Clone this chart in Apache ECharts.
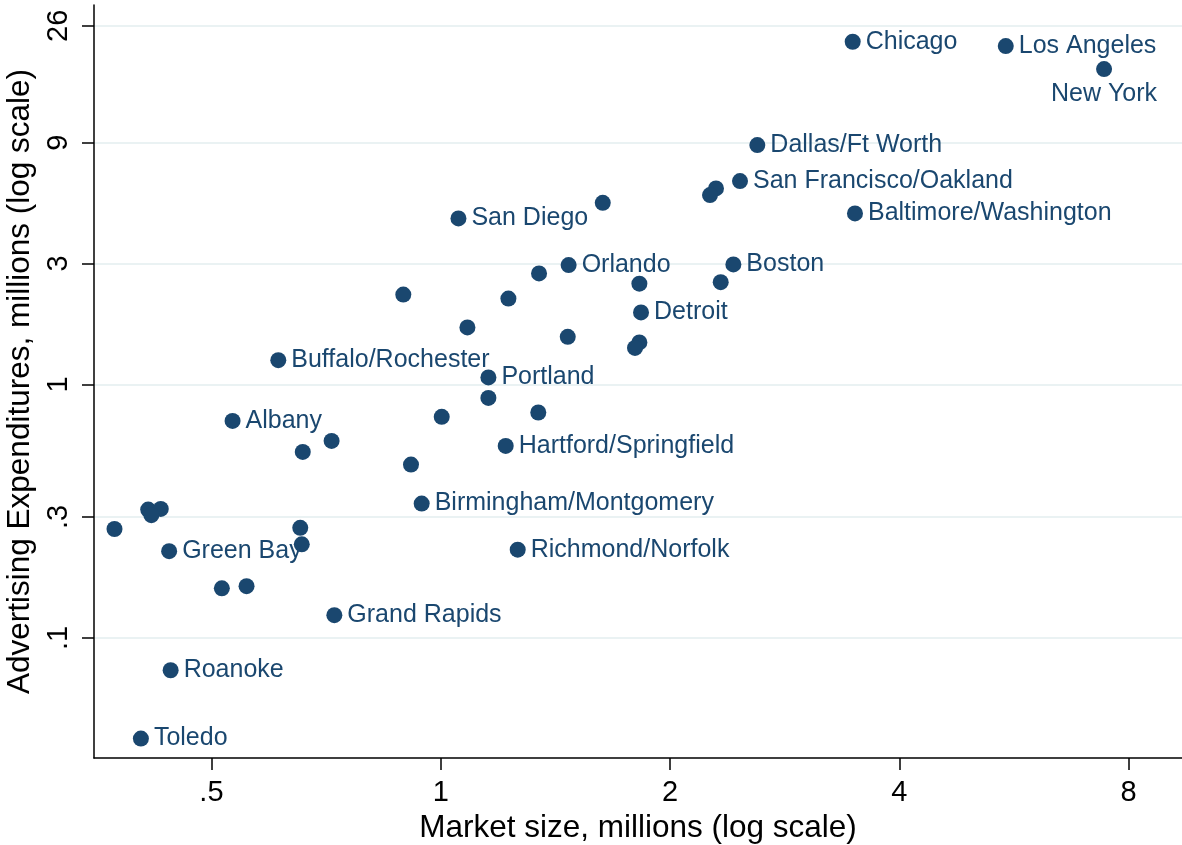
<!DOCTYPE html>
<html>
<head>
<meta charset="utf-8">
<script src="https://cdn.jsdelivr.net/npm/echarts@6/dist/echarts.min.js"></script>
<style>
html, body { margin: 0; padding: 0; background: #fff; }
#chart { width: 1182px; height: 845px; }
</style>
</head>
<body>
<div id="chart"></div>
<script>
// Market size (millions), advertising expenditures (millions), city labels
const marketSize = [3.474, 5.518, 7.427, 2.604, 2.471, 2.298, 2.257, 3.498, 1.632, 1.055,
  1.472, 1.346, 2.422, 2.331, 1.823, 0.893, 1.227, 1.832, 1.084, 1.468,
  1.823, 1.799, 0.612, 1.155, 1.155, 1.003, 1.343, 0.533, 0.719, 0.659,
  1.217, 0.914, 0.944, 0.413, 0.429, 0.417, 0.373, 0.654, 0.657, 0.440,
  1.262, 0.516, 0.556, 0.725, 0.442, 0.404];
const adSpend = [22.49, 21.63, 17.55, 8.797, 6.343, 5.935, 5.585, 4.730, 5.208, 4.519,
  2.957, 2.742, 2.976, 2.533, 2.499, 2.262, 2.181, 1.924, 1.679, 1.541,
  1.465, 1.394, 1.247, 1.066, 0.885, 0.745, 0.775, 0.718, 0.599, 0.542,
  0.572, 0.483, 0.339, 0.321, 0.323, 0.305, 0.269, 0.272, 0.234, 0.220,
  0.223, 0.157, 0.160, 0.123, 0.0746, 0.0401];
const cityLabel = ['Chicago', 'Los Angeles', 'New York', 'Dallas/Ft Worth', 'San Francisco/Oakland', '', '', 'Baltimore/Washington', '', 'San Diego',
  'Orlando', '', 'Boston', '', '', '', '', 'Detroit', '', '',
  '', '', 'Buffalo/Rochester', 'Portland', '', '', '', 'Albany', '', '',
  'Hartford/Springfield', '', 'Birmingham/Montgomery', '', '', '', '', '', '', 'Green Bay',
  'Richmond/Norfolk', '', '', 'Grand Rapids', 'Roanoke', 'Toledo'];
const labelsBelow = ['New York'];

const xTickValues = [0.5, 1, 2, 4, 8];
const xTickLabels = ['.5', '1', '2', '4', '8'];
const yTickValues = [0.1, 0.3, 1, 3, 9, 26];
const yTickLabels = ['.1', '.3', '1', '3', '9', '26'];

const xTitle = 'Market size, millions (log scale)';
const yTitle = 'Advertising Expenditures, millions (log scale)';

function lookup(vals, labels, v) {
  for (let i = 0; i < vals.length; i++) {
    if (Math.abs(vals[i] - v) < 1e-3 * vals[i]) return labels[i];
  }
  return '';
}

const FONT = "'Liberation Sans', Arial, Helvetica, sans-serif";
const NAVY = '#1a476f';

const points = marketSize.map((x, i) => {
  const item = { value: [x, adSpend[i]], name: cityLabel[i] };
  if (labelsBelow.indexOf(cityLabel[i]) >= 0) {
    item.label = { position: 'bottom' };
  }
  return item;
});

const chart = echarts.init(document.getElementById('chart'), null, { renderer: 'canvas' });
chart.setOption({
  animation: false,
  backgroundColor: '#ffffff',
  grid: { left: 94, right: 0, top: 5, bottom: 87, containLabel: false, outerBoundsMode: 'none' },
  xAxis: {
    type: 'log',
    logBase: 2,
    min: 0.3506,
    max: 9.40,
    name: xTitle,
    nameLocation: 'middle',
    nameGap: 52,
    nameTextStyle: { fontFamily: FONT, fontSize: 31.5, color: '#000' },
    axisLine: { show: true, lineStyle: { color: '#000', width: 1.5 } },
    axisTick: { show: true, length: 12, lineStyle: { color: '#000', width: 1.5 }, customValues: xTickValues },
    axisLabel: {
      customValues: xTickValues,
      formatter: v => lookup(xTickValues, xTickLabels, v),
      fontFamily: FONT, fontSize: 29, color: '#000', margin: 20
    },
    splitLine: { show: false },
    minorTick: { show: false },
    minorSplitLine: { show: false }
  },
  yAxis: {
    type: 'log',
    logBase: 10,
    min: 0.03361,
    max: 31.4,
    name: yTitle,
    nameLocation: 'middle',
    nameGap: 50,
    nameTextStyle: { fontFamily: FONT, fontSize: 31.5, color: '#000' },
    axisLine: { show: true, lineStyle: { color: '#000', width: 1.5 } },
    axisTick: { show: true, length: 12, lineStyle: { color: '#000', width: 1.5 }, customValues: yTickValues },
    axisLabel: {
      customValues: yTickValues,
      formatter: v => lookup(yTickValues, yTickLabels, v),
      rotate: 90,
      fontFamily: FONT, fontSize: 29, color: '#000', margin: 21
    },
    splitLine: { show: true, lineStyle: { color: '#eaf2f3', width: 2 } },
    minorTick: { show: false },
    minorSplitLine: { show: false }
  },
  series: [{
    type: 'scatter',
    symbol: 'circle',
    symbolSize: 16,
    itemStyle: { color: NAVY, opacity: 1 },
    label: {
      show: true,
      position: 'right',
      distance: 5,
      formatter: p => p.name,
      fontFamily: FONT,
      fontSize: 25,
      color: NAVY
    },
    emphasis: { disabled: true },
    data: points
  }]
});
</script>
</body>
</html>
